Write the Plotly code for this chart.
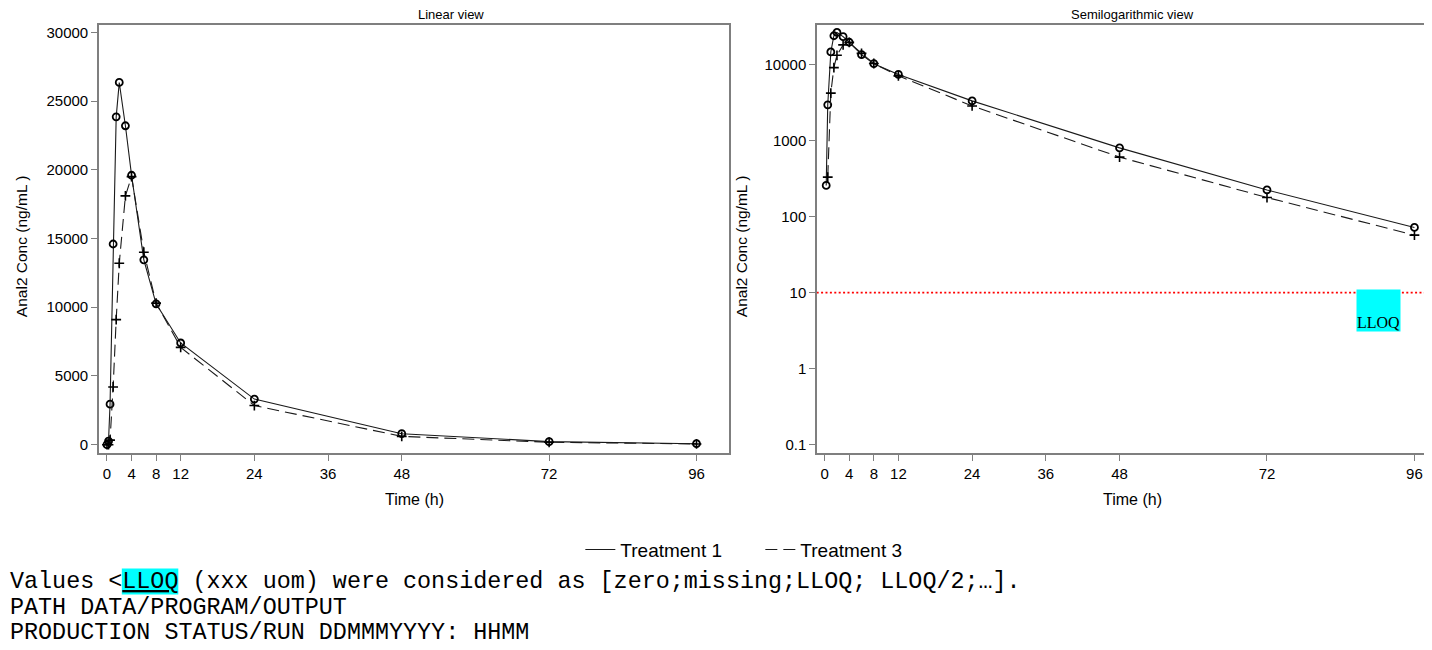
import plotly.graph_objects as go

# ---- data ----
time_h = [0, 0.25, 0.5, 1, 1.5, 2, 3, 4, 6, 8, 12, 24, 48, 72, 96]
treatment1 = [0, 257, 2950, 14600, 23850, 26350, 23200, 19600, 13450, 10250, 7400, 3320, 800, 224, 72]
treatment3 = [0, 0, 330, 4200, 9100, 13200, 18100, 19500, 14000, 10300, 7080, 2850, 605, 178, 57]
series_names = ["Treatment 1", "Treatment 3"]
x_ticks = [0, 4, 8, 12, 24, 36, 48, 72, 96]
y_lin_ticks = [0, 5000, 10000, 15000, 20000, 25000, 30000]
y_lin_text = ["0", "5000", "10000", "15000", "20000", "25000", "30000"]
y_log_ticks = [0.1, 1, 10, 100, 1000, 10000]
y_log_text = ["0.1", "1", "10", "100", "1000", "10000"]
lloq = 10
lloq_x = [-1.3, 101.3]

# page body has an 8px margin; work in screen pixels and convert
OFF = 8
W, H = 1440, 650
ML = 98.7 - OFF
MT = 25 - OFF
PLOT_RIGHT = 1446.6 - OFF
PLOT_BOTTOM = 453.3 - OFF
MR = W - PLOT_RIGHT
MB = H - PLOT_BOTTOM
PW = PLOT_RIGHT - ML
PH = PLOT_BOTTOM - MT

def px_x(sx):
    return (sx - OFF - ML) / PW

def px_y(sy):
    return (PLOT_BOTTOM - (sy - OFF)) / PH

fig = go.Figure()

line_col = "#1a1a1a"
styles = [
    dict(dash="solid", symbol="circle-open", msize=7, mw=1.8),
    dict(dash="12px,6px", symbol="cross-thin-open", msize=7, mw=1.6),
]

for i, (name, vals) in enumerate(zip(series_names, [treatment1, treatment3])):
    st = styles[i]
    mk = dict(symbol=st["symbol"], size=st["msize"], color="black",
              line=dict(color="black", width=st["mw"]))
    ln = dict(color=line_col, width=1.1, dash=st["dash"])
    fig.add_trace(go.Scatter(
        x=time_h, y=vals, name=name, mode="lines+markers", line=ln, marker=mk,
        xaxis="x", yaxis="y", showlegend=False, legendgroup=name,
    ))
    vals_log = [v if v > 0 else None for v in vals]
    fig.add_trace(go.Scatter(
        x=time_h, y=vals_log, name=name, mode="lines+markers", line=ln, marker=mk,
        xaxis="x2", yaxis="y2", showlegend=False, legendgroup=name,
    ))
    # legend entry: line only
    fig.add_trace(go.Scatter(
        x=[None], y=[None], name=name, mode="lines", line=ln,
        xaxis="x", yaxis="y", showlegend=True, legendgroup=name,
    ))

# LLOQ reference line
fig.add_trace(go.Scatter(
    x=lloq_x, y=[lloq, lloq], mode="lines",
    line=dict(color="red", width=1.6, dash="2px,2.4px"),
    xaxis="x2", yaxis="y2", showlegend=False, hoverinfo="skip",
))

axis_common = dict(
    showline=True, linecolor="#7f7f7f", linewidth=1.6,
    ticks="outside", ticklen=6, tickcolor="#7f7f7f", tickwidth=1.3,
    tickfont=dict(family="Liberation Sans", size=15, color="black"),
    showgrid=False, zeroline=False,
)

dom1 = [0, px_x(728.7)]
dom2 = [px_x(816.7), 1]

fig.update_layout(
    width=W, height=H,
    margin=dict(l=ML, r=MR, t=MT, b=MB, pad=0),
    plot_bgcolor="white", paper_bgcolor="white",
    xaxis=dict(domain=dom1, range=[-1.3, 101.3], tickmode="array", tickvals=x_ticks,
               mirror=True, anchor="y", **axis_common),
    yaxis=dict(range=[-603, 30530], tickmode="array", tickvals=y_lin_ticks, ticktext=y_lin_text,
               mirror=True, anchor="x", **axis_common),
    xaxis2=dict(domain=dom2, range=[-1.24, 101.3], tickmode="array", tickvals=x_ticks,
                mirror=True, anchor="y2", **axis_common),
    yaxis2=dict(type="log", range=[-1.109, 4.519], tickmode="array", tickvals=y_log_ticks,
                ticktext=y_log_text, anchor="x2", **axis_common),
    showlegend=True,
    legend=dict(orientation="h", x=px_x(580), xanchor="left", y=px_y(550), yanchor="middle",
                font=dict(family="Liberation Sans", size=19, color="black"),
                entrywidth=135, entrywidthmode="pixels",
                tracegroupgap=0, bgcolor="rgba(0,0,0,0)", borderwidth=0),
)

def ann(text, sx, sy, size, family="Liberation Sans", **kw):
    d = dict(text=text, xref="paper", yref="paper", x=px_x(sx), y=px_y(sy),
             xanchor="center", yanchor="middle", showarrow=False,
             font=dict(family=family, size=size, color="black"))
    d.update(kw)
    return d

annotations = [
    ann("Linear view", 451, 14.5, 13),
    ann("Semilogarithmic view", 1132, 14.5, 13),
    ann("Time (h)", 413.7, 500, 16),
    ann("Time (h)", 1132, 500, 16),
    ann("Anal2 Conc (ng/mL )", 22, 246, 15.5, textangle=-90),
    ann("Anal2 Conc (ng/mL )", 741, 246, 15.5, textangle=-90),
]
# LLOQ label box
annotations.append(dict(text="LLOQ", xref="x2", yref="paper", x=90.2, y=px_y(310.5),
                        xanchor="center", yanchor="middle",
                        showarrow=False, width=43, height=41, valign="bottom", align="center",
                        bgcolor="#00ffff", borderpad=0,
                        font=dict(family="Liberation Serif", size=16, color="black")))
# footnotes (start at the left edge of the figure)
foot = [
    ("Values &lt;<u>LLOQ</u> (xxx uom) were considered as [zero;missing;LLOQ; LLOQ/2;…].", 582),
    ("PATH DATA/PROGRAM/OUTPUT", 608),
    ("PRODUCTION STATUS/RUN DDMMMYYYY: HHMM", 633),
]
for txt, cy in foot:
    annotations.append(ann(txt, OFF, cy, 23.4, family="Liberation Mono", xanchor="left"))
fig.update_layout(annotations=annotations)

# cyan highlight behind footnote LLOQ
fig.add_shape(type="rect", xref="paper", yref="paper", x0=px_x(121.5), x1=px_x(178),
              y0=px_y(595), y1=px_y(569), fillcolor="#00ffff", line=dict(width=0), layer="below")

fig.write_html("out.html")
